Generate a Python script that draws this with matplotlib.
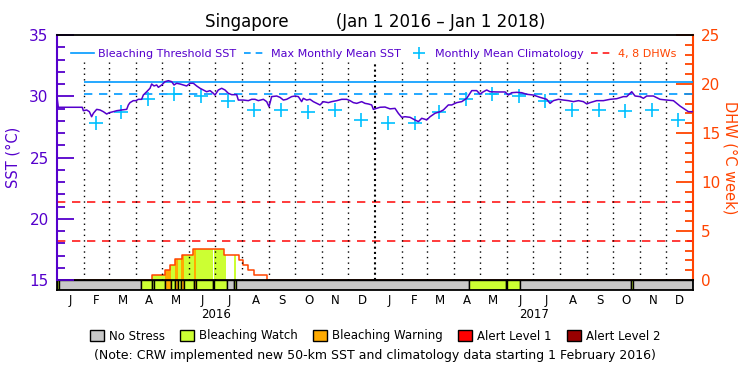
import numpy as np
import pandas as pd
import matplotlib
matplotlib.use('Agg')
import matplotlib.pyplot as plt
import matplotlib.transforms as mtransforms
from matplotlib.lines import Line2D
from matplotlib.patches import Patch

t0 = pd.Timestamp('2016-01-01')
t1 = pd.Timestamp('2018-01-01')
ndays = (t1 - t0).days

# SST (days since Jan 1 2016, deg C)
sst_day = [0, 1.5, 29, 30.3, 34.1, 37.2, 39.8, 41.8, 45.6, 49.4, 53.3, 57.1, 60.1, 64.7, 68.6,
           74.3, 80.1, 82.0, 83.9, 87.7, 90.8, 93.5, 97.3, 99.2, 103.1, 106.9, 108.8, 111.5,
           114.6, 116.5, 120.3, 122.2, 124.1, 128.0, 131.8, 134.5, 137.5, 141.4, 145.2, 149.0,
           152.9, 156.7, 160.5, 164.4, 168.2, 172.0, 175.9, 179.7, 181.6, 185.4, 189.3, 193.1,
           196.9, 200.8, 206.5, 208.4, 214.2, 219.9, 223.8, 227.6, 231.4, 237.2, 241.0, 243.7,
           246.7, 252.5, 256.3, 260.2, 264.0, 269.7, 273.6, 277.4, 281.2, 283.1, 287.0, 290.8,
           294.6, 298.5, 302.3, 306.1, 311.9, 315.7, 321.5, 327.2, 333.0, 336.8, 340.6, 344.5,
           350.2, 354.0, 357.9, 361.7, 363.6, 367.4, 371.3, 377.0, 382.8, 388.5, 392.4, 396.2,
           400.0, 405.8, 411.5, 415.4, 419.2, 423.0, 424.9, 428.8, 434.5, 440.3, 444.1, 449.8,
           453.7, 459.4, 465.2, 470.9, 476.7, 482.4, 486.2, 490.1, 493.9, 497.7, 505.4, 515.0,
           518.8, 522.6, 528.4, 534.1, 539.9, 547.5, 555.2, 562.9, 566.7, 570.5, 576.3, 582.0,
           587.8, 593.5, 599.3, 605.0, 608.9, 612.7, 620.3, 628.0, 635.7, 643.3, 651.0, 654.8,
           660.6, 664.4, 670.2, 674.0, 677.8, 685.5, 693.1, 700.8, 708.5, 716.1, 721.8, 725.7, 731]
sst_val = [29.96, 29.1, 29.1, 28.82, 28.88, 28.74, 28.33, 28.61, 28.93, 28.88, 28.74, 28.55, 28.66, 28.74, 28.82,
           28.88, 28.93, 29.29, 29.48, 29.64, 29.64, 29.75, 29.75, 30.10, 30.37, 30.65, 31.00, 30.84,
           30.92, 30.73, 30.92, 31.06, 31.19, 31.27, 31.19, 30.92, 31.06, 31.00, 30.92, 30.84,
           31.06, 31.06, 30.84, 30.65, 30.51, 30.37, 30.46, 30.24, 30.10, 30.51, 30.65, 30.51,
           30.24, 30.13, 30.13, 29.69, 29.69, 29.64, 29.75, 29.75, 29.64, 29.75, 29.56, 29.15,
           29.97, 30.02, 29.91, 29.69, 29.75, 29.97, 30.02, 29.97, 29.56, 29.83, 29.69, 29.75,
           29.56, 29.42, 29.29, 29.56, 29.48, 29.56, 29.64, 29.75, 29.75, 29.64, 29.48, 29.42,
           29.56, 29.42, 29.37, 29.29, 28.93, 29.01, 29.10, 29.12, 28.97, 29.01, 28.60, 28.28,
           28.33, 28.28, 28.06, 27.93, 28.20, 28.12, 28.06, 28.33, 28.61, 28.74, 28.88, 29.29,
           29.29, 29.48, 29.56, 29.83, 30.46, 30.46, 30.18, 30.37, 30.51, 30.37, 30.35, 30.35,
           30.10, 30.29, 30.32, 30.29, 30.16, 30.10, 29.91, 29.75, 29.42, 29.64, 29.75, 29.69,
           29.64, 29.56, 29.64, 29.56, 29.37, 29.48, 29.64, 29.64, 29.75, 29.80, 29.97, 29.97,
           30.37, 30.02, 29.97, 29.83, 30.02, 30.02, 29.75, 29.69, 29.64, 29.20, 28.93, 28.74, 28.74]

# monthly mean climatology, Feb 2016 .. Dec 2017
clim_val = [27.8, 28.7, 29.75, 30.16, 30.05, 29.6, 28.88, 28.88, 28.74, 28.88, 28.06,
            27.8, 27.8, 28.7, 29.75, 30.16, 30.05, 29.6, 28.9, 28.9, 28.76, 28.88, 28.06]
mmm = 30.16
threshold = 31.16
clim_start = 31   # new climatology from 1 Feb 2016

# degree heating weeks (step series)
dhw_day = [0, 109, 124, 130, 136, 144, 156, 192, 209, 214, 220, 226, 241]
dhw_val = [0, 0.5, 1.0, 1.5, 2.1, 2.6, 3.2, 2.6, 2.0, 1.5, 1.0, 0.5, 0]
dhw_lines = [4, 8]

# stress level segments: 0 no stress, 1 watch, 2 warning
seg_start = [0, 2.5, 97, 109, 111, 124, 131, 136, 139, 143, 146, 158, 160, 179, 181, 195, 203, 206,
             473, 516, 517.6, 532, 659.5, 662.4]
seg_end = [2.5, 97, 109, 111, 124, 131, 136, 139, 143, 146, 158, 160, 179, 181, 195, 203, 206, 473,
           516, 517.6, 532, 659.5, 662.4, 731]
seg_level = [1, 0, 1, 1, 1, 2, 1, 2, 1, 2, 1, 2, 1, 0, 1, 0, 1, 0,
             1, 1, 1, 0, 1, 0]

level_names = ['No Stress', 'Bleaching Watch', 'Bleaching Warning', 'Alert Level 1', 'Alert Level 2']
level_colors = ['#C8C8C8', '#CCFF33', '#FFAA00', '#FF0000', '#990000']

purple = '#5500CC'
orange_red = '#FF4400'
blue = '#0099FF'
cyan = '#00C0FF'
red = '#FF1A1A'

fig = plt.figure(figsize=(7.5, 3.75), dpi=100)
ax = fig.add_axes([57/750, 95/375, 636/750, 245/375])
ax2 = ax.twinx()
axb = fig.add_axes([57/750, 85/375, 636/750, 10/375])

# DHW axis (behind)
ax2.set_ylim(0, 25)
for v in dhw_lines:
    ax2.axhline(v, color=red, lw=1.2, ls=(0, (5, 4)))
grid = np.arange(0, ndays + 0.01, 0.25)
dhw_g = np.array(dhw_val)[np.searchsorted(dhw_day, grid, side='right') - 1]
lvl_g = np.zeros_like(grid, dtype=int)
for s, e, l in zip(seg_start, seg_end, seg_level):
    lvl_g[(grid >= s) & (grid < e)] = l
for lev in [1, 2]:
    ax2.fill_between(grid, 0, dhw_g, where=(lvl_g == lev), step='post',
                     color=level_colors[lev], lw=0)
ax2.step(dhw_day + [ndays], dhw_val + [0], where='post', color=orange_red, lw=1.1)

# month boundaries
months = pd.date_range(t0, t1, freq='MS')
mdays = np.array([(m - t0).days for m in months])
for m, d in zip(months, mdays):
    if d == 0 or d == ndays:
        continue
    if m.month == 1:
        ax.axvline(d, ymax=0.89, color='black', lw=1.5, ls=(0, (1, 1.5)))
    else:
        ax.axvline(d, ymax=0.89, color='black', lw=1, ls=(0, (1, 3)))

# SST
ax.hlines(threshold, clim_start, ndays, color=blue, lw=1.2)
ax.hlines(mmm, clim_start, ndays, color=blue, lw=1.2, linestyles=(0, (5, 4)))
clim_days = [(m - t0).days + 14 for m in pd.date_range('2016-02-01', '2017-12-01', freq='MS')]
ax.plot(clim_days, clim_val, ls='none', marker='+', ms=10, mew=1.2, color=cyan)
ax.plot(sst_day, sst_val, color=purple, lw=1.1)

ax.set_zorder(ax2.get_zorder() + 1)
ax.patch.set_visible(False)
ax.set_xlim(0, ndays)
ax.set_ylim(15, 35)
ax.set_xticks([])
ax.set_yticks(range(15, 36, 5))
ax.set_yticks(range(15, 36), minor=True)
ax.tick_params(axis='y', which='major', direction='in', length=12, width=1.3,
               color=purple, labelcolor=purple, labelsize=11, pad=6)
ax.tick_params(axis='y', which='minor', direction='in', length=6, width=1.3, color=purple)
ax.spines['left'].set_color(purple)
ax.spines['left'].set_linewidth(1.5)
ax.spines['right'].set_visible(False)
ax.spines['bottom'].set_visible(False)
ax.spines['top'].set_linewidth(1.3)
ax.set_ylabel('SST (°C)', color=purple, fontsize=10.5)
ax.yaxis.set_label_coords(-0.058, 0.5)

ax2.set_xlim(0, ndays)
ax2.set_yticks(range(0, 26, 5))
ax2.set_yticks(range(0, 26), minor=True)
ax2.tick_params(axis='y', which='major', direction='in', length=12, width=1.3,
                color=orange_red, labelcolor=orange_red, labelsize=11, pad=6)
ax2.tick_params(axis='y', which='minor', direction='in', length=6, width=1.3, color=orange_red)
for sp in ['left', 'top', 'bottom']:
    ax2.spines[sp].set_visible(False)
ax2.spines['right'].set_color(orange_red)
ax2.spines['right'].set_linewidth(1.5)
ax2.set_ylabel('DHW (°C week)', color=orange_red, fontsize=10.5, rotation=270)
ax2.yaxis.set_label_coords(1.07, 0.5)

# stress bar
for s, e, l in zip(seg_start, seg_end, seg_level):
    axb.barh(0, e - s, left=s, height=1, color=level_colors[l], edgecolor='black', lw=1)
axb.set_xlim(0, ndays)
axb.set_ylim(-0.5, 0.5)
axb.set_yticks([])
mid = [(a + b) / 2 for a, b in zip(mdays[:-1], mdays[1:])]
axb.set_xticks(mid)
axb.set_xticklabels([m.strftime('%b')[0] for m in months[:-1]], fontsize=8.5)
axb.tick_params(axis='x', length=0, pad=3)
for sp in axb.spines.values():
    sp.set_linewidth(1.3)

trans = mtransforms.blended_transform_factory(axb.transData, fig.transFigure)
for yr in [2016, 2017]:
    a = (pd.Timestamp(f'{yr}-01-01') - t0).days
    b = (pd.Timestamp(f'{yr+1}-01-01') - t0).days
    axb.text((a + b) / 2, 1 - 314/375, str(yr), transform=trans, ha='center', va='center', fontsize=8.5)

# legends
handles = [Line2D([], [], color=blue, lw=1.2),
           Line2D([], [], color=blue, lw=1.2, ls=(0, (4, 3))),
           Line2D([], [], color=cyan, marker='+', ls='none', ms=8, mew=1.2),
           Line2D([], [], color=red, lw=1.2, ls=(0, (4, 3)))]
labels = ['Bleaching Threshold SST', 'Max Monthly Mean SST', 'Monthly Mean Climatology', '4, 8 DHWs']
ax.legend(handles, labels, ncol=4, loc='upper left', bbox_to_anchor=(0.012, 0.97),
          frameon=False, fontsize=8, labelcolor=[purple, purple, purple, orange_red],
          handlelength=2.0, handletextpad=0.4, columnspacing=0.7, borderaxespad=0.2)

fig.legend([Patch(facecolor=c, edgecolor='black') for c in level_colors], level_names,
           ncol=5, loc='center', bbox_to_anchor=(0.5, 1 - 336/375), frameon=False,
           fontsize=8.5, handlelength=1.2, handleheight=1.0, handletextpad=0.4, columnspacing=1.3)

fig.text(0.5, 1 - 22/375, 'Singapore         (Jan 1 2016 – Jan 1 2018)', ha='center', va='center', fontsize=12)
fig.text(0.5, 1 - 355/375,
         '(Note: CRW implemented new 50-km SST and climatology data starting 1 February 2016)',
         ha='center', va='center', fontsize=9)

fig.savefig('out.png', dpi=100)
